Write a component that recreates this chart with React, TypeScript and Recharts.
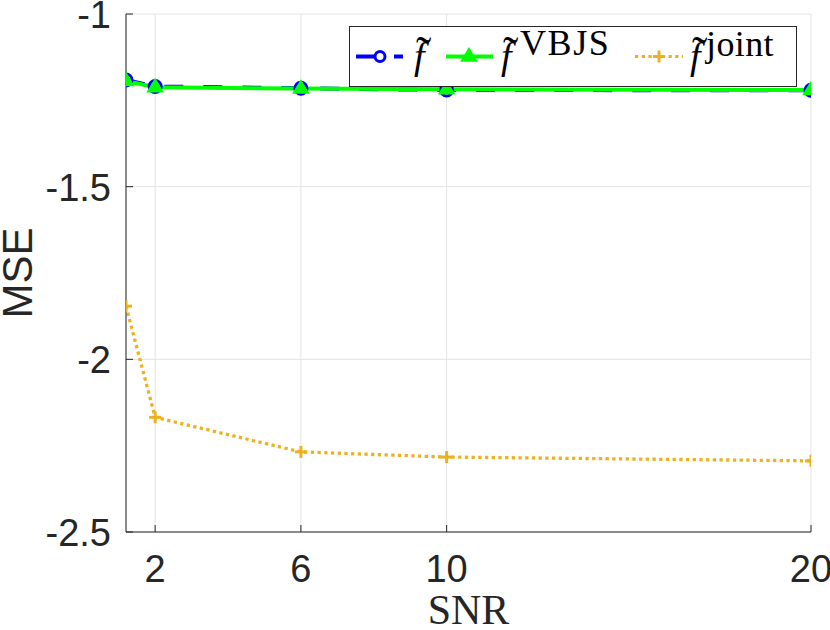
import React from 'react';
import { LineChart, Line, XAxis, YAxis, CartesianGrid, Legend } from 'recharts';

const snr = [1.2, 2, 6, 10, 20];
const fTilde = [-1.191, -1.21, -1.215, -1.22, -1.221];
const fVBJS = [-1.194, -1.212, -1.216, -1.218, -1.22];
const fJoint = [-1.846, -2.168, -2.268, -2.283, -2.294];
const xTicks = [2, 6, 10, 20];
const yTicks = [-2.5, -2, -1.5, -1];

const data = snr.map((s, i) => ({ snr: s, fTilde: fTilde[i], fVBJS: fVBJS[i], fJoint: fJoint[i] }));

const AXIS = '#262626';
const SANS = '"Liberation Sans", Arial, Helvetica, sans-serif';
const SERIF = '"Liberation Serif", "Times New Roman", serif';
const TL = 7;
const BLUE = '#0000ff';
const GREEN = '#00ff00';
const ORANGE = '#EDB120';

const BottomTick = (p: any) => (
  <g>
    <line x1={p.x} x2={p.x} y1={p.y} y2={p.y - TL} stroke={AXIS} strokeWidth={1} />
    <text x={p.x} y={p.y + 50} textAnchor="middle" fontSize={38} fontFamily={SANS} fill={AXIS}>
      {p.payload.value}
    </text>
  </g>
);
const TopTick = (p: any) => (
  <line x1={p.x} x2={p.x} y1={p.y} y2={p.y + TL} stroke={AXIS} strokeWidth={1} />
);
const LeftTick = (p: any) => (
  <g>
    <line x1={p.x} x2={p.x + TL} y1={p.y} y2={p.y} stroke={AXIS} strokeWidth={1} />
    <text x={p.x - 15} y={p.y + 14} textAnchor="end" fontSize={38} fontFamily={SANS} fill={AXIS}>
      {String(p.payload.value)}
    </text>
  </g>
);
const RightTick = (p: any) => (
  <line x1={p.x} x2={p.x - TL} y1={p.y} y2={p.y} stroke={AXIS} strokeWidth={1} />
);

const circleDot = (p: any) => (
  <circle key={`c${p.index}`} cx={p.cx} cy={p.cy} r={6} fill="#ffffff" stroke={BLUE} strokeWidth={3} />
);
const triDot = (p: any) => (
  <polygon
    key={`t${p.index}`}
    points={`${p.cx},${p.cy - 8} ${p.cx - 7.5},${p.cy + 4.5} ${p.cx + 7.5},${p.cy + 4.5}`}
    fill={GREEN}
    stroke={GREEN}
    strokeWidth={1.5}
  />
);
const plusDot = (p: any) => (
  <g key={`p${p.index}`}>
    <line x1={p.cx - 6} x2={p.cx + 6} y1={p.cy} y2={p.cy} stroke={ORANGE} strokeWidth={3} />
    <line x1={p.cx} x2={p.cx} y1={p.cy - 6} y2={p.cy + 6} stroke={ORANGE} strokeWidth={3} />
  </g>
);

const LegendLabel = ({ fx, sup, sx, sy, ls }: { fx: number; sup?: string; sx?: number; sy?: number; ls?: number }) => (
  <text fontFamily={SERIF} fill="#000">
    <tspan x={fx} y={42.6} fontSize={38} fontStyle="italic">f</tspan>
    <tspan x={fx + 2} y={42} fontSize={46}>˜</tspan>
    {sup ? (
      <tspan x={sx} y={sy} fontSize={36} letterSpacing={ls || 0}>{sup}</tspan>
    ) : null}
  </text>
);

const LegendBox = () => {
  const cy = 30.5;
  return (
    <svg width={449} height={62} style={{ display: 'block', overflow: 'visible' }}>
      <rect x={0.5} y={0.5} width={447} height={60} fill="#ffffff" stroke={AXIS} strokeWidth={1} />
      <line x1={7} x2={54} y1={cy} y2={cy} stroke={BLUE} strokeWidth={4} strokeDasharray="19 19" />
      <circle cx={31} cy={cy} r={5} fill="#ffffff" stroke={BLUE} strokeWidth={3} />
      <LegendLabel fx={65} />
      <line x1={97} x2={144} y1={cy} y2={cy} stroke={GREEN} strokeWidth={4} />
      <polygon points={`120,${cy - 8} 112.5,${cy + 4.5} 127.5,${cy + 4.5}`} fill={GREEN} stroke={GREEN} strokeWidth={1.5} />
      <LegendLabel fx={152} sup="VBJS" sx={171} sy={28.7} ls={1.6} />
      <line x1={286} x2={334} y1={cy} y2={cy} stroke={ORANGE} strokeWidth={3} strokeDasharray="3.3 3.4" />
      <line x1={304} x2={316} y1={cy} y2={cy} stroke={ORANGE} strokeWidth={3} />
      <line x1={310} x2={310} y1={cy - 6} y2={cy + 6} stroke={ORANGE} strokeWidth={3} />
      <LegendLabel fx={341} sup="joint" sx={357} sy={29.7} ls={0.4} />
    </svg>
  );
};

const YTitle = (p: any) => {
  const vb = p.viewBox || { x: 0, y: 14, width: 126, height: 518 };
  const cy = vb.y + vb.height / 2;
  return (
    <text
      x={0}
      y={0}
      transform={`translate(${vb.x + 32}, ${cy}) rotate(-90)`}
      textAnchor="middle"
      fontSize={42}
      fontFamily={SANS}
      fill={AXIS}
    >
      MSE
    </text>
  );
};

const XTitle = (p: any) => {
  const vb = p.viewBox || { x: 126, y: 532, width: 685, height: 98 };
  return (
    <text x={vb.x + vb.width / 2} y={vb.y + 92} textAnchor="middle" fontSize={42} fontFamily={SERIF} fill={AXIS}>
      SNR
    </text>
  );
};

export default function App() {
  return (
    <div style={{ position: 'absolute', left: 0, top: 0, width: 830, height: 630, background: '#fff' }}>
      <LineChart width={830} height={630} data={data} margin={{ top: 14, right: 19, left: 0, bottom: 0 }}>
        <CartesianGrid stroke="#e3e3e3" strokeWidth={1} />
        <XAxis
          dataKey="snr"
          type="number"
          domain={[1.2, 20]}
          ticks={xTicks}
          interval={0}
          height={98}
          tickSize={0}
          tickMargin={0}
          tickLine={false}
          tick={<BottomTick />}
          axisLine={{ stroke: AXIS, strokeWidth: 1 }}
          allowDataOverflow
          label={{ content: (p: any) => <XTitle {...p} /> }}
        />
        <XAxis
          xAxisId="top"
          orientation="top"
          dataKey="snr"
          type="number"
          domain={[1.2, 20]}
          ticks={xTicks}
          interval={0}
          height={0}
          tickSize={0}
          tickMargin={0}
          tickLine={false}
          tick={<TopTick />}
          axisLine={{ stroke: AXIS, strokeWidth: 1 }}
          allowDataOverflow
        />
        <YAxis
          type="number"
          domain={[-2.5, -1]}
          ticks={yTicks}
          interval={0}
          width={126}
          tickSize={0}
          tickMargin={0}
          tickLine={false}
          tick={<LeftTick />}
          axisLine={{ stroke: AXIS, strokeWidth: 1 }}
          allowDataOverflow
          label={{ content: (p: any) => <YTitle {...p} /> }}
        />
        <YAxis
          yAxisId="right"
          orientation="right"
          type="number"
          domain={[-2.5, -1]}
          ticks={yTicks}
          interval={0}
          width={0}
          tickSize={0}
          tickMargin={0}
          tickLine={false}
          tick={<RightTick />}
          axisLine={{ stroke: AXIS, strokeWidth: 1 }}
          allowDataOverflow
        />
        <Line
          dataKey="fTilde"
          stroke={BLUE}
          strokeWidth={4}
          strokeDasharray="19 20"
          dot={circleDot}
          activeDot={false}
          isAnimationActive={false}
        />
        <Line
          dataKey="fVBJS"
          stroke={GREEN}
          strokeWidth={4}
          dot={triDot}
          activeDot={false}
          isAnimationActive={false}
        />
        <Line
          dataKey="fJoint"
          stroke={ORANGE}
          strokeWidth={3.3}
          strokeDasharray="3.3 3.4"
          dot={plusDot}
          activeDot={false}
          isAnimationActive={false}
        />
        <Legend
          layout="horizontal"
          verticalAlign="middle"
          align="center"
          content={() => <LegendBox />}
          wrapperStyle={{ position: 'absolute', left: 349, top: 26, width: 449, height: 62, right: 'auto', bottom: 'auto' }}
        />
      </LineChart>
    </div>
  );
}
